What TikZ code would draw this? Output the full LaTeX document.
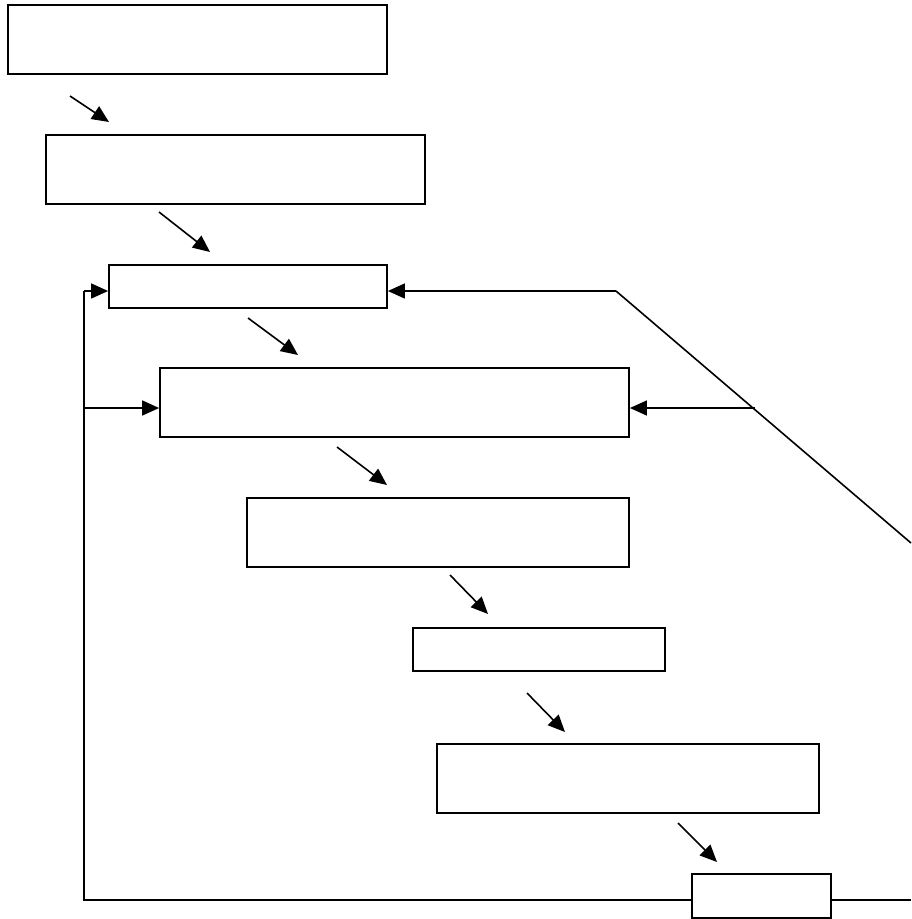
\documentclass[tikz,border=0pt]{standalone}
\usetikzlibrary{arrows.meta}
\begin{document}
\begin{tikzpicture}[x=1pt,y=-1pt,
  box/.style={draw, line width=1.8pt, inner sep=0pt, fill=white},
  link/.style={line width=1.6pt},
  arr/.style={line width=1.6pt, -{Triangle[length=17pt,width=15pt]}}]
\useasboundingbox (0,0) rectangle (911,919);
% boxes
\node[box, minimum width=379pt, minimum height=69pt] (b1) at (197.5,39.5) {};
\node[box, minimum width=379pt, minimum height=69pt] (b2) at (235.5,169.5) {};
\node[box, minimum width=278pt, minimum height=43pt] (b3) at (248,286.5) {};
\node[box, minimum width=469pt, minimum height=69pt] (b4) at (394.5,402.5) {};
\node[box, minimum width=382pt, minimum height=69pt] (b5) at (438,532.5) {};
\node[box, minimum width=252pt, minimum height=43pt] (b6) at (539,649.5) {};
\node[box, minimum width=382pt, minimum height=69pt] (b7) at (628,778.5) {};
\node[box, minimum width=139pt, minimum height=44pt] (b8) at (761.5,896) {};
% diagonal step arrows
\coordinate (s1) at (70,96);   \coordinate (t1) at (109,122);
\coordinate (s2) at (159,212); \coordinate (t2) at (210,252);
\coordinate (s3) at (248,318); \coordinate (t3) at (298,355);
\coordinate (s4) at (337,447); \coordinate (t4) at (387,485);
\coordinate (s5) at (450,575); \coordinate (t5) at (488,614);
\coordinate (s6) at (527,693); \coordinate (t6) at (565,732);
\coordinate (s7) at (678,823); \coordinate (t7) at (717,862);
\foreach \i in {1,...,7} \draw[arr] (s\i) -- (t\i);
% feedback loop on the left
\coordinate (lb) at (84,900);
\coordinate (l3) at (84,291);
\coordinate (l4) at (84,408);
\draw[link] (b8.west |- lb) -- (lb) -- (l3);
\draw[arr] (l3) -- (l3 -| b3.west);
\draw[arr] (l4) -- (l4 -| b4.west);
% right side
\coordinate (re) at (911,900);
\draw[link] (b8.east |- re) -- (re);
\coordinate (rd) at (911,543);
\coordinate (rk) at (616,291);
\coordinate (rh) at (755,408);
\draw[link] (rd) -- (rk);
\draw[arr] (rk) -- (rk -| b3.east);
\draw[arr] (rh) -- (rh -| b4.east);
\end{tikzpicture}
\end{document}
